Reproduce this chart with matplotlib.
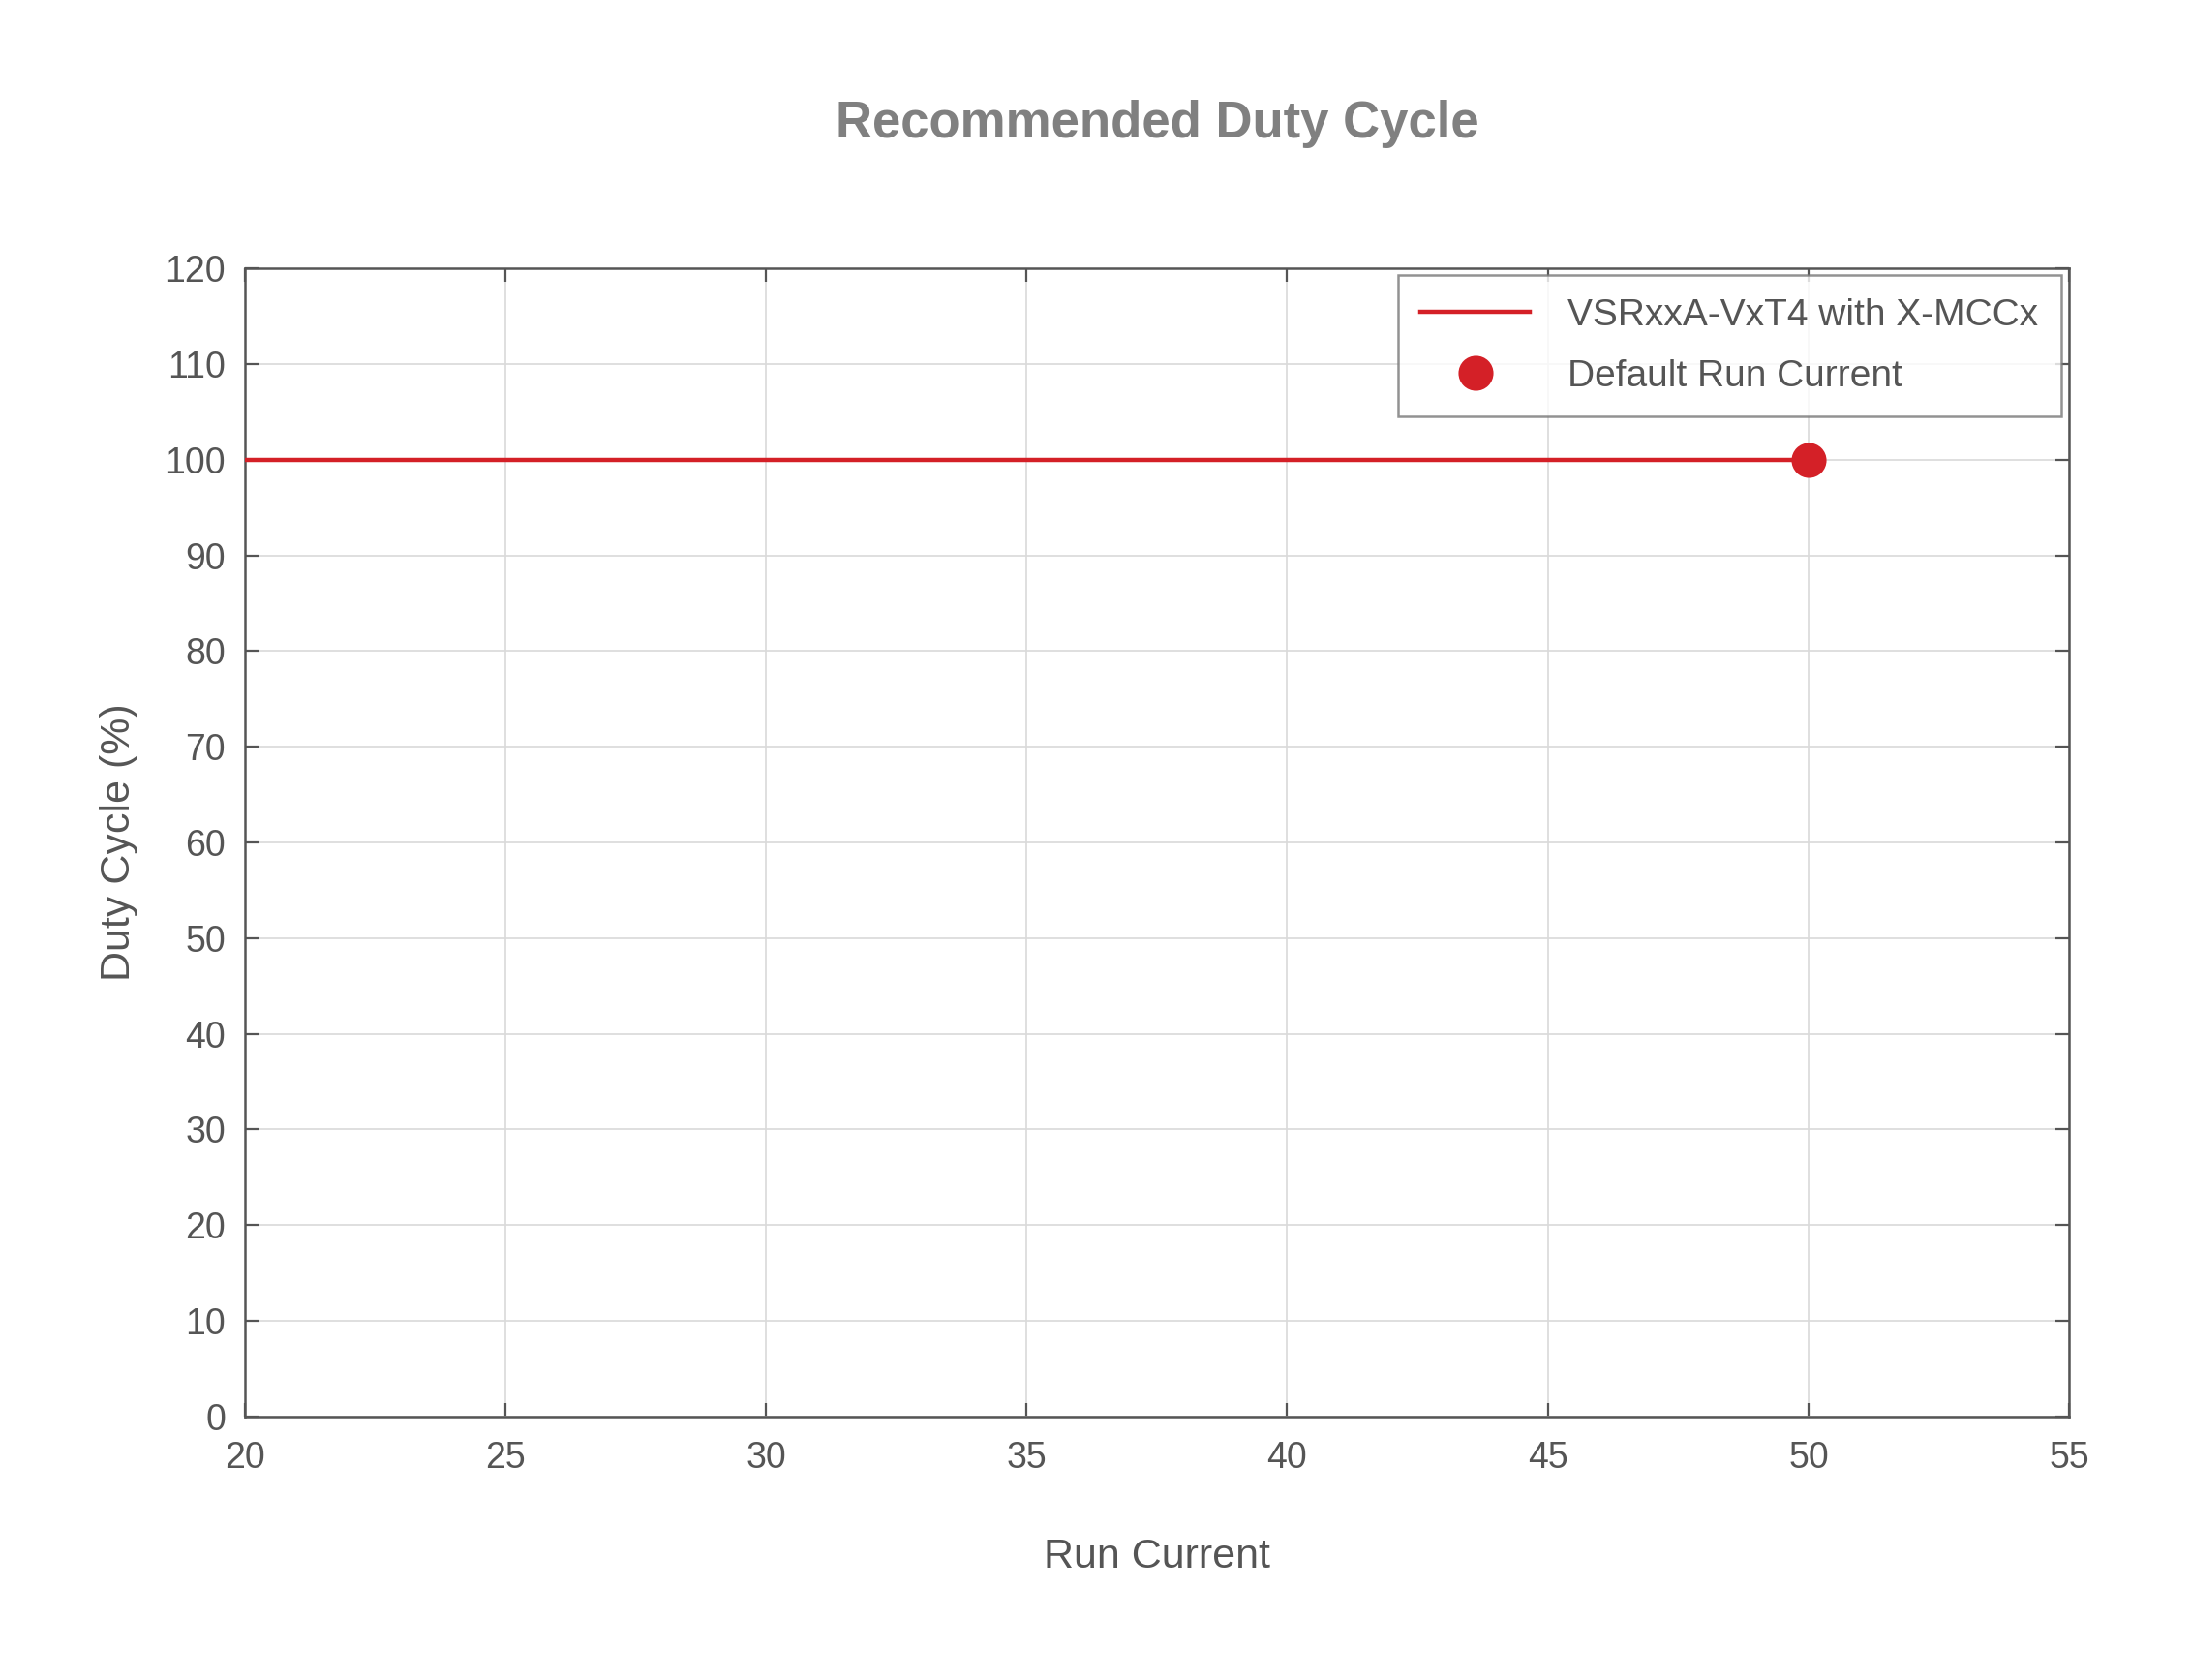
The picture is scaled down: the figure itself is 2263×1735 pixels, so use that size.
import matplotlib
matplotlib.use('Agg')
import matplotlib.pyplot as plt

plt.rcParams['font.family'] = ['Liberation Sans', 'DejaVu Sans']

# data
run_current = [20, 50]
duty_cycle = [100, 100]
default_current = [50]
default_duty = [100]

x_ticks = [20, 25, 30, 35, 40, 45, 50, 55]
y_ticks = list(range(0, 121, 10))

text_color = '#555555'
red = '#d42027'

fig = plt.figure(figsize=(11.315, 8.675), dpi=200)
ax = fig.add_axes([0.1116, 0.1568, 0.8328, 0.6835])

ax.plot(run_current, duty_cycle, color=red, linewidth=1.6,
        label='VSRxxA-VxT4 with X-MCCx', zorder=3)
ax.plot(default_current, default_duty, 'o', color=red, markersize=12,
        linestyle='none', label='Default Run Current', zorder=4, clip_on=False)

ax.set_xlim(20, 55)
ax.set_ylim(0, 120)
ax.set_xticks(x_ticks)
ax.set_yticks(y_ticks)
ax.grid(True, color='#d9d9d9', linewidth=0.6)
ax.set_axisbelow(True)

ax.tick_params(direction='in', top=True, right=True, length=5, width=0.8,
               colors=text_color, labelsize=13.5)
ax.tick_params(axis='y', pad=7)
ax.tick_params(axis='x', pad=9)
for s in ax.spines.values():
    s.set_color(text_color)
    s.set_linewidth(0.9)

ax.set_xlabel('Run Current', fontsize=15.5, color=text_color, labelpad=23)
ax.set_ylabel('Duty Cycle (%)', fontsize=15.5, color=text_color, labelpad=10)
fig.text(0.528, 0.926, 'Recommended Duty Cycle', ha='center', va='center',
         fontsize=19, fontweight='bold', color='#808080')

leg = ax.legend(loc='upper right', fontsize=14, frameon=True, fancybox=False,
                edgecolor='#777777', borderpad=0.6, labelspacing=0.7,
                handlelength=2.9, handletextpad=1.0, borderaxespad=0,
                bbox_to_anchor=(0.9954, 0.994))
leg.get_frame().set_linewidth(0.9)
for t in leg.get_texts():
    t.set_color(text_color)

fig.savefig('out.png', dpi=200, facecolor='white')
